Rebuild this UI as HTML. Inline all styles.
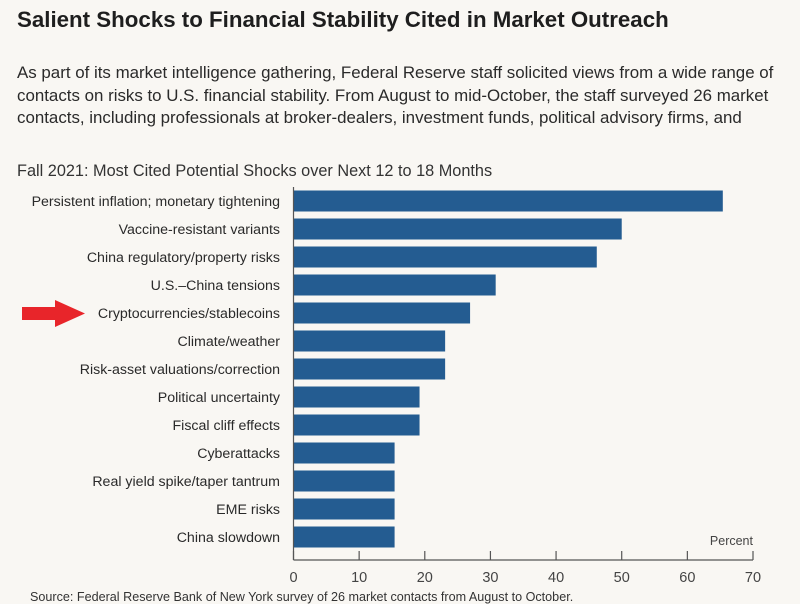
<!DOCTYPE html>
<html><head><meta charset="utf-8"><style>
body{margin:0;width:800px;height:601px;background:#f9f7f3;overflow:hidden;font-family:"Liberation Sans",sans-serif;color:#222}
.t{position:absolute;white-space:nowrap}
</style></head><body>
<div class="t" style="left:17px;top:7px;font-size:22.3px;font-weight:bold;color:#1e1e1e">Salient Shocks to Financial Stability Cited in Market Outreach</div>
<div class="t" style="left:17px;top:62px;font-size:16.9px;line-height:22.5px;color:#2a2a2a">As part of its market intelligence gathering, Federal Reserve staff solicited views from a wide range of<br>contacts on risks to U.S. financial stability. From August to mid-October, the staff surveyed 26 market<br>contacts, including professionals at broker-dealers, investment funds, political advisory firms, and</div>
<div class="t" style="left:17px;top:162px;font-size:16.3px;color:#333">Fall 2021: Most Cited Potential Shocks over Next 12 to 18 Months</div>
<div class="t" style="left:30px;top:590px;font-size:12.6px;color:#333">Source: Federal Reserve Bank of New York survey of 26 market contacts from August to October.</div>
<svg id="chart" width="800" height="601" style="position:absolute;left:0;top:0"></svg>
<script>
const categories=["Persistent inflation; monetary tightening","Vaccine-resistant variants","China regulatory/property risks","U.S.\u2013China tensions","Cryptocurrencies/stablecoins","Climate/weather","Risk-asset valuations/correction","Political uncertainty","Fiscal cliff effects","Cyberattacks","Real yield spike/taper tantrum","EME risks","China slowdown"];
const values=[65.4,50,46.2,30.8,26.9,23.1,23.1,19.2,19.2,15.4,15.4,15.4,15.4];
const ticks=[0,10,20,30,40,50,60,70];
const NS="http://www.w3.org/2000/svg";
const svg=document.getElementById('chart');
const x0=293.5,x1=753,xmax=70;
const xs=v=>x0+(x1-x0)*v/xmax;
const yTop=187,step=28;
const yc=i=>yTop+14+i*step;
function mk(t,a){const e=document.createElementNS(NS,t);for(const k in a)e.setAttribute(k,a[k]);svg.appendChild(e);return e;}
categories.forEach((c,i)=>{
 const r=mk('rect',{x:xs(0)+0.5,y:yc(i)-10.5,width:xs(values[i])-xs(0)-0.5,height:21,fill:'#245c91'});
 
 
 const t=mk('text',{x:280,y:yc(i)+5,'text-anchor':'end','font-size':'14.2','fill':'#2a2a2a','font-family':'Liberation Sans, sans-serif'});
 t.textContent=c;
 
 
});
const ax=mk('line',{x1:x0,y1:560,x2:x1,y2:560,stroke:'#555','stroke-width':1.2});


const ay=mk('line',{x1:x0,y1:yTop,x2:x0,y2:560,stroke:'#555','stroke-width':1.2});


ticks.forEach(v=>{
 const l=mk('line',{x1:xs(v),y1:551,x2:xs(v),y2:560,stroke:'#555','stroke-width':1.2});
 
 
 const t=mk('text',{x:xs(v),y:582,'text-anchor':'middle','font-size':'14.5','fill':'#444','font-family':'Liberation Sans, sans-serif'});
 t.textContent=v;
 
 
});
const u=mk('text',{x:753,y:545,'text-anchor':'end','font-size':'12.5','fill':'#444','font-family':'Liberation Sans, sans-serif'});
u.textContent='Percent';


const ar=mk('polygon',{points:'22,307 55,307 55,300 85,313.5 55,327 55,320 22,320',fill:'#e8252a'});


</script>
</body></html>
